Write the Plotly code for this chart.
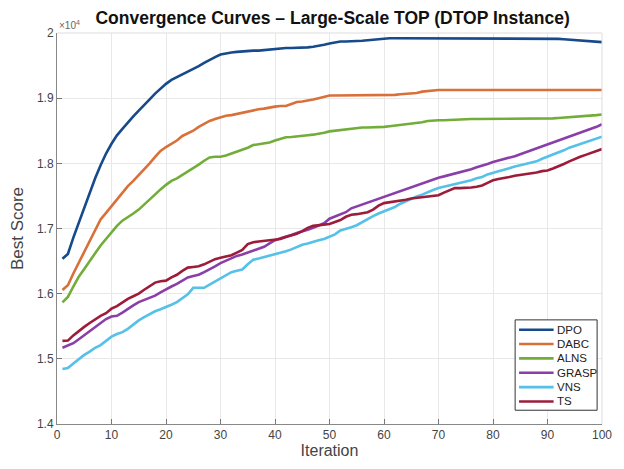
import plotly.graph_objects as go

iterations = list(range(1, 101))

dpo = [16535, 16610, 16860, 17090, 17340, 17570, 17770, 17970, 18150, 18300,
       18430, 18530, 18630, 18720, 18810, 18890, 18980, 19070, 19150, 19220,
       19280, 19320, 19360, 19400, 19440, 19490, 19540, 19590, 19630, 19670,
       19690, 19700, 19710, 19720, 19730, 19730, 19730, 19740, 19740, 19750,
       19760, 19770, 19770, 19770, 19770, 19780, 19790, 19800, 19820, 19840,
       19860, 19870, 19870, 19870, 19870, 19880, 19890, 19900, 19910, 19920,
       19920, 19920, 19920, 19920, 19920, 19920, 19920, 19920, 19920, 19920,
       19920, 19920, 19920, 19920, 19920, 19920, 19920, 19920, 19920, 19920,
       19920, 19920, 19920, 19920, 19920, 19920, 19920, 19920, 19920, 19920,
       19915, 19910, 19905, 19900, 19895, 19890, 19885, 19880, 19870, 19860]

dabc = [16055, 16130, 16310, 16480, 16640, 16810, 16990, 17140, 17240, 17340,
        17440, 17550, 17650, 17730, 17820, 17900, 18000, 18100, 18190, 18250,
        18300, 18350, 18420, 18460, 18500, 18560, 18610, 18650, 18680, 18710,
        18730, 18740, 18760, 18770, 18790, 18810, 18830, 18840, 18860, 18870,
        18880, 18880, 18910, 18940, 18950, 18960, 18980, 19000, 19020, 19040,
        19040, 19040, 19040, 19040, 19040, 19040, 19040, 19040, 19040, 19040,
        19045, 19050, 19060, 19065, 19070, 19080, 19100, 19110, 19120, 19125,
        19125, 19125, 19125, 19125, 19125, 19125, 19125, 19125, 19125, 19125,
        19125, 19125, 19125, 19125, 19125, 19125, 19125, 19125, 19125, 19125,
        19125, 19125, 19125, 19125, 19125, 19125, 19125, 19125, 19125, 19125]

alns = [15865, 15950, 16110, 16260, 16380, 16510, 16620, 16740, 16840, 16940,
        17040, 17120, 17170, 17230, 17290, 17370, 17440, 17520, 17600, 17670,
        17730, 17770, 17820, 17870, 17930, 17980, 18040, 18090, 18100, 18100,
        18120, 18150, 18170, 18200, 18240, 18280, 18290, 18300, 18320, 18350,
        18380, 18400, 18405, 18410, 18420, 18430, 18440, 18450, 18470, 18490,
        18500, 18520, 18530, 18540, 18540, 18550, 18550, 18550, 18555, 18560,
        18570, 18580, 18590, 18600, 18600, 18610, 18630, 18650, 18660, 18660,
        18660, 18665, 18670, 18680, 18680, 18680, 18680, 18680, 18680, 18680,
        18680, 18680, 18680, 18680, 18680, 18680, 18680, 18680, 18680, 18680,
        18690, 18695, 18700, 18705, 18710, 18715, 18720, 18730, 18740, 18750]

grasp = [15170, 15200, 15240, 15300, 15360, 15420, 15490, 15550, 15610, 15650,
         15660, 15710, 15770, 15820, 15870, 15900, 15930, 15970, 16020, 16070,
         16110, 16150, 16200, 16250, 16270, 16290, 16330, 16370, 16420, 16470,
         16510, 16550, 16580, 16600, 16630, 16650, 16690, 16720, 16770, 16820,
         16850, 16870, 16900, 16930, 16950, 16980, 17010, 17040, 17080, 17150,
         17180, 17210, 17250, 17310, 17340, 17360, 17390, 17430, 17460, 17490,
         17510, 17540, 17570, 17600, 17630, 17670, 17700, 17730, 17760, 17780,
         17800, 17820, 17840, 17870, 17890, 17910, 17940, 17960, 17990, 18020,
         18040, 18060, 18080, 18110, 18140, 18170, 18190, 18220, 18260, 18290,
         18320, 18340, 18370, 18400, 18430, 18460, 18490, 18530, 18560, 18600]

vns = [14845, 14860, 14930, 15000, 15060, 15110, 15170, 15210, 15280, 15340,
       15380, 15410, 15460, 15530, 15590, 15640, 15690, 15730, 15760, 15790,
       15830, 15870, 15930, 15990, 16090, 16090, 16090, 16140, 16190, 16240,
       16290, 16330, 16350, 16370, 16450, 16520, 16540, 16560, 16580, 16600,
       16630, 16650, 16680, 16720, 16750, 16770, 16800, 16820, 16840, 16870,
       16910, 16970, 16990, 17020, 17050, 17100, 17140, 17190, 17230, 17260,
       17290, 17330, 17380, 17420, 17460, 17490, 17520, 17560, 17590, 17620,
       17640, 17650, 17670, 17690, 17720, 17740, 17770, 17790, 17830, 17860,
       17880, 17900, 17930, 17950, 17970, 17990, 18000, 18030, 18070, 18100,
       18130, 18170, 18200, 18240, 18270, 18300, 18320, 18350, 18380, 18410]

ts = [15275, 15280, 15360, 15430, 15490, 15550, 15610, 15660, 15700, 15770,
      15810, 15870, 15920, 15960, 16000, 16060, 16120, 16170, 16190, 16200,
      16250, 16290, 16350, 16400, 16410, 16420, 16450, 16490, 16530, 16550,
      16570, 16590, 16630, 16670, 16760, 16790, 16800, 16810, 16820, 16820,
      16840, 16870, 16890, 16920, 16960, 17010, 17040, 17050, 17060, 17070,
      17100, 17130, 17180, 17210, 17220, 17230, 17250, 17290, 17350, 17390,
      17400, 17410, 17420, 17440, 17460, 17470, 17480, 17490, 17500, 17510,
      17550, 17590, 17620, 17620, 17620, 17630, 17640, 17660, 17700, 17740,
      17760, 17770, 17790, 17810, 17820, 17830, 17840, 17860, 17880, 17890,
      17920, 17950, 17990, 18030, 18070, 18100, 18130, 18160, 18190, 18220]

series_names = ["DPO", "DABC", "ALNS", "GRASP", "VNS", "TS"]
series_values = [dpo, dabc, alns, grasp, vns, ts]
series_colors = ["#174a8b", "#d9703a", "#72ad3a", "#8a3fa8", "#55c0e8", "#9c1c3a"]

y_tick_vals = [14000, 15000, 16000, 17000, 18000, 19000, 20000]
y_tick_text = ["1.4", "1.5", "1.6", "1.7", "1.8", "1.9", "2"]
x_tick_vals = [0, 10, 20, 30, 40, 50, 60, 70, 80, 90, 100]

FONT = "Liberation Sans, Arial, sans-serif"

fig = go.Figure()
for name, vals, col in zip(series_names, series_values, series_colors):
    fig.add_trace(go.Scatter(x=iterations, y=vals, mode="lines", name=name,
                             line=dict(color=col, width=2.6), showlegend=False))

fig.update_layout(
    width=624, height=469,
    margin=dict(l=57, r=15, t=33, b=38),
    paper_bgcolor="white", plot_bgcolor="white",
    font=dict(family=FONT, color="#333333", size=12),
    title=dict(text="<b>Convergence Curves – Large-Scale TOP (DTOP Instance)</b>",
               x=0.533, xanchor="center", y=0.962, yanchor="middle",
               font=dict(family=FONT, size=17.5, color="#111111")),
    showlegend=False,
)

fig.update_xaxes(
    range=[0, 100], tickvals=x_tick_vals, ticks="inside", ticklen=5,
    tickcolor="#777777", showline=True, linecolor="#888888", linewidth=1,
    mirror=False, showgrid=True, gridcolor="#e8e8e8", gridwidth=1,
    zeroline=False, tickfont=dict(size=12, color="#444444"),
    title=dict(text="Iteration", font=dict(size=16, color="#444444"), standoff=3),
)
fig.update_yaxes(
    range=[14000, 20000], tickvals=y_tick_vals, ticktext=y_tick_text,
    ticks="inside", ticklen=5, tickcolor="#777777", showline=True,
    linecolor="#888888", linewidth=1, mirror=False, showgrid=True,
    gridcolor="#e8e8e8", gridwidth=1, zeroline=False,
    tickfont=dict(size=12, color="#444444"),
    title=dict(text="Best Score", font=dict(size=17, color="#444444"), standoff=8),
)

# light frame on top/right
fig.add_shape(type="line", xref="paper", yref="paper", x0=0, x1=1, y0=1, y1=1,
              line=dict(color="#dddddd", width=1))
fig.add_shape(type="line", xref="paper", yref="paper", x0=1, x1=1, y0=0, y1=1,
              line=dict(color="#dddddd", width=1))

# compact legend box (matches the reference's tight spacing)
fig.add_shape(type="rect", xref="paper", yref="paper",
              x0=0.8406, x1=0.991, y0=0.0352, y1=0.2663,
              line=dict(color="#333333", width=1), fillcolor="white")
leg_top = 0.2412
leg_step = 0.0367
for i, (name, col) in enumerate(zip(series_names, series_colors)):
    yy = leg_top - i * leg_step
    fig.add_shape(type="line", xref="paper", yref="paper",
                  x0=0.8478, x1=0.9112, y0=yy, y1=yy,
                  line=dict(color=col, width=2.6))
    fig.add_annotation(text=name, xref="paper", yref="paper",
                       x=0.9135, y=yy, xanchor="left", yanchor="middle",
                       showarrow=False,
                       font=dict(family=FONT, size=11.5, color="#222222"))

fig.add_annotation(text="×10<sup>4</sup>", xref="paper", yref="paper",
                   x=0.0, y=1.0, xanchor="left", yanchor="bottom", yshift=0,
                   showarrow=False, font=dict(family=FONT, size=10, color="#666666"))

fig.write_html("out.html")
